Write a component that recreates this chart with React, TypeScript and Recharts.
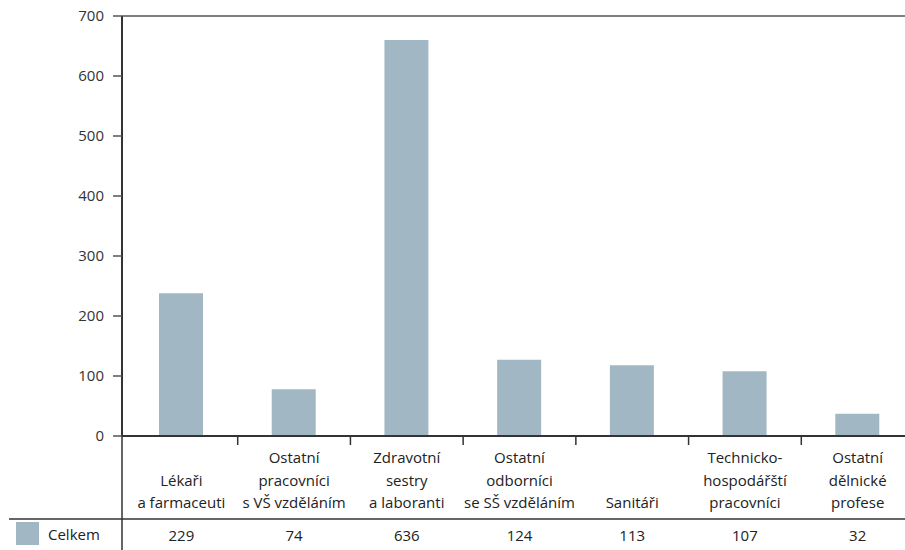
import React from 'react';
import { BarChart, Bar, XAxis, YAxis, ReferenceLine, Legend } from 'recharts';

// ---- data ----
const categoryLines: string[][] = [
  ['Lékaři', 'a farmaceuti'],
  ['Ostatní', 'pracovníci', 's VŠ vzděláním'],
  ['Zdravotní', 'sestry', 'a laboranti'],
  ['Ostatní', 'odborníci', 'se SŠ vzděláním'],
  ['Sanitáři'],
  ['Technicko-', 'hospodářští', 'pracovníci'],
  ['Ostatní', 'dělnické', 'profese'],
];
// bar heights as drawn in the picture
const barValues = [238, 78, 660, 127, 118, 108, 37];
// numbers printed in the data table row
const tableValues = ['229', '74', '636', '124', '113', '107', '32'];
const yTicks = [0, 100, 200, 300, 400, 500, 600, 700];
const seriesName = 'Celkem';

const data = categoryLines.map((lines, i) => ({
  name: lines.join(' '),
  value: barValues[i],
}));

// ---- style ----
const FONT = '"Open Sans", "Noto Sans", sans-serif';
const BAR_COLOR = '#a1b8c4';
const TEXT = '#222';
const CHART_W = 914;
const CHART_H = 550;
const Y_AXIS_W = 122;
const PAD_LEFT = 3;
const BAND = (CHART_W - Y_AXIS_W - PAD_LEFT) / categoryLines.length;

const CategoryTick = (props: any) => {
  const { x, y, index } = props;
  const lines = categoryLines[index] || [];
  const baselines = [27, 49.5, 72];
  const start = 3 - lines.length;
  return (
    <g>
      {index > 0 && (
        <line
          x1={x - BAND / 2}
          x2={x - BAND / 2}
          y1={y}
          y2={y + 9}
          stroke="#333"
          strokeWidth={1.5}
        />
      )}
      <text textAnchor="middle" fontFamily={FONT} fontSize={15} fill={TEXT}>
        {lines.map((l, k) => (
          <tspan key={k} x={x} y={y + baselines[start + k]}>
            {l}
          </tspan>
        ))}
      </text>
      <text x={x} y={y + 105} textAnchor="middle" fontFamily={FONT} fontSize={15} fill={TEXT}>
        {tableValues[index]}
      </text>
    </g>
  );
};

const LegendContent = (props: any) => {
  const item = (props.payload && props.payload[0]) || { value: seriesName, color: BAR_COLOR };
  return (
    <div style={{ display: 'flex', alignItems: 'center', fontFamily: FONT, fontSize: 15, color: TEXT }}>
      <span
        style={{ display: 'inline-block', width: 23, height: 23, background: BAR_COLOR, marginRight: 9 }}
      />
      <span>{item.value}</span>
    </div>
  );
};

export default function App() {
  return (
    <div style={{ position: 'absolute', left: 0, top: 0, width: 905, height: 550, overflow: 'hidden', background: '#fff' }}>
      <BarChart
        width={CHART_W}
        height={CHART_H}
        data={data}
        margin={{ top: 16, right: 0, bottom: 0, left: 0 }}
      >
        <ReferenceLine y={700} stroke="#555" strokeWidth={1.5} />
        <XAxis
          dataKey="name"
          height={114}
          interval={0}
          padding={{ left: PAD_LEFT, right: 0 }}
          tickSize={0}
          tickMargin={0}
          tickLine={false}
          axisLine={{ stroke: '#333', strokeWidth: 2 }}
          tick={<CategoryTick />}
        />
        <YAxis
          width={Y_AXIS_W}
          domain={[0, 700]}
          ticks={yTicks}
          interval={0}
          tickSize={9}
          tickMargin={9}
          axisLine={{ stroke: '#333', strokeWidth: 2 }}
          tickLine={{ stroke: '#555', strokeWidth: 1.5 }}
          tick={{ fontFamily: FONT, fontSize: 15, fill: '#333' }}
        />
        <Legend
          layout="vertical"
          align="center"
          verticalAlign="middle"
          content={<LegendContent />}
          wrapperStyle={{ left: 16, top: 522, width: 'auto', height: 'auto' }}
        />
        <Bar dataKey="value" name={seriesName} fill={BAR_COLOR} barSize={44} isAnimationActive={false} />
      </BarChart>
      <svg
        width={905}
        height={550}
        style={{ position: 'absolute', left: 0, top: 0, pointerEvents: 'none' }}
      >
        <line x1={122} x2={122} y1={436} y2={550} stroke="#333" strokeWidth={1.5} />
        <line x1={9} x2={905} y1={519} y2={519} stroke="#333" strokeWidth={1.5} />
      </svg>
    </div>
  );
}
